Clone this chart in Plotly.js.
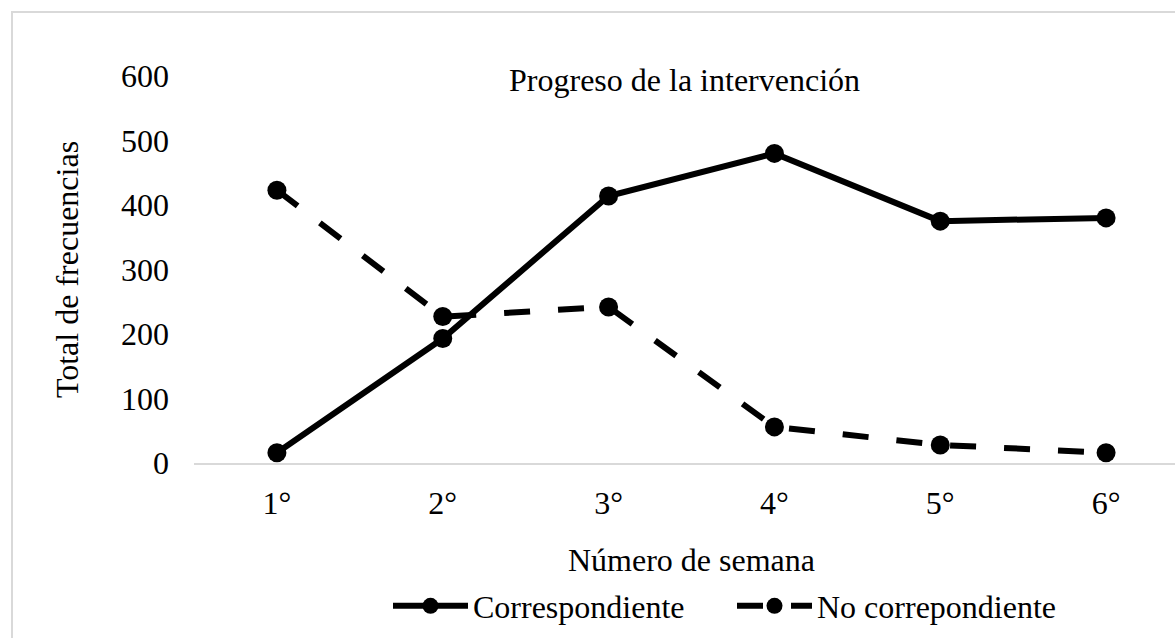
<!DOCTYPE html>
<html>
<head>
<meta charset="utf-8">
<script src="https://cdn.plot.ly/plotly-3.0.1.min.js"></script>
<style>
  html, body { margin:0; padding:0; background:#fff; overflow:hidden; width:1175px; height:638px; }
  #frame { position:absolute; left:11px; top:11px; width:2000px; height:2000px; border:2px solid #d9d9d9; box-sizing:border-box; }
  #chart { position:absolute; left:0; top:0; width:1230px; height:638px; }
</style>
</head>
<body>
<div id="frame"></div>
<div id="chart"></div>
<script>
const semanas = ["1°", "2°", "3°", "4°", "5°", "6°"];
const correspondiente = [16, 193, 414, 480, 375, 380];
const noCorrespondiente = [423, 227, 242, 56, 28, 16];
const yTicks = [0, 100, 200, 300, 400, 500, 600];

const FONT = "Liberation Serif";
const FS = 32;

const traces = [
  {
    x: semanas, y: correspondiente, name: "Correspondiente",
    type: "scatter", mode: "lines+markers",
    line: {color: "#000", width: 6},
    marker: {color: "#000", size: 19, symbol: "circle"}
  },
  {
    x: semanas, y: noCorrespondiente, name: "No correpondiente",
    type: "scatter", mode: "lines+markers",
    line: {color: "#000", width: 6, dash: "26px,28px"},
    marker: {color: "#000", size: 19, symbol: "circle"}
  }
];

const layout = {
  width: 1230, height: 638,
  margin: {l: 194, r: 41, t: 76, b: 175},
  paper_bgcolor: "rgba(0,0,0,0)",
  plot_bgcolor: "rgba(0,0,0,0)",
  font: {family: FONT, size: FS, color: "#000"},
  showlegend: true,
  title: {
    text: "Progreso de la intervención",
    font: {family: FONT, size: FS, color: "#000"},
    xref: "paper", x: 0.493, xanchor: "center",
    yref: "container", y: 1 - 80/638, yanchor: "middle"
  },
  xaxis: {
    type: "category",
    range: [-0.5, 5.5],
    showgrid: false, zeroline: false,
    showline: true, linecolor: "#d9d9d9", linewidth: 2,
    ticks: "", ticklabelstandoff: 11,
    tickfont: {family: FONT, size: FS, color: "#000"},
    title: {text: "Número de semana", standoff: 39, font: {family: FONT, size: FS, color: "#000"}},
    automargin: false, fixedrange: true
  },
  yaxis: {
    range: [0, 600],
    tickvals: yTicks,
    ticktext: yTicks.map(String),
    showgrid: false, zeroline: false, showline: false,
    ticks: "", ticklabelstandoff: 24,
    tickfont: {family: FONT, size: FS, color: "#000"},
    title: {text: "Total de frecuencias", standoff: 32, font: {family: FONT, size: FS, color: "#000"}},
    automargin: false, fixedrange: true
  },
  legend: {
    orientation: "h",
    xref: "container", x: 388/1230, xanchor: "left",
    yref: "container", y: 1 - 606/638, yanchor: "middle",
    font: {family: FONT, size: FS, color: "#000"},
    bgcolor: "rgba(0,0,0,0)",
    itemwidth: 75,
    entrywidth: 254, entrywidthmode: "pixels"
  }
};

Plotly.newPlot("chart", traces, layout, {displayModeBar: false, staticPlot: true});
</script>
</body>
</html>
